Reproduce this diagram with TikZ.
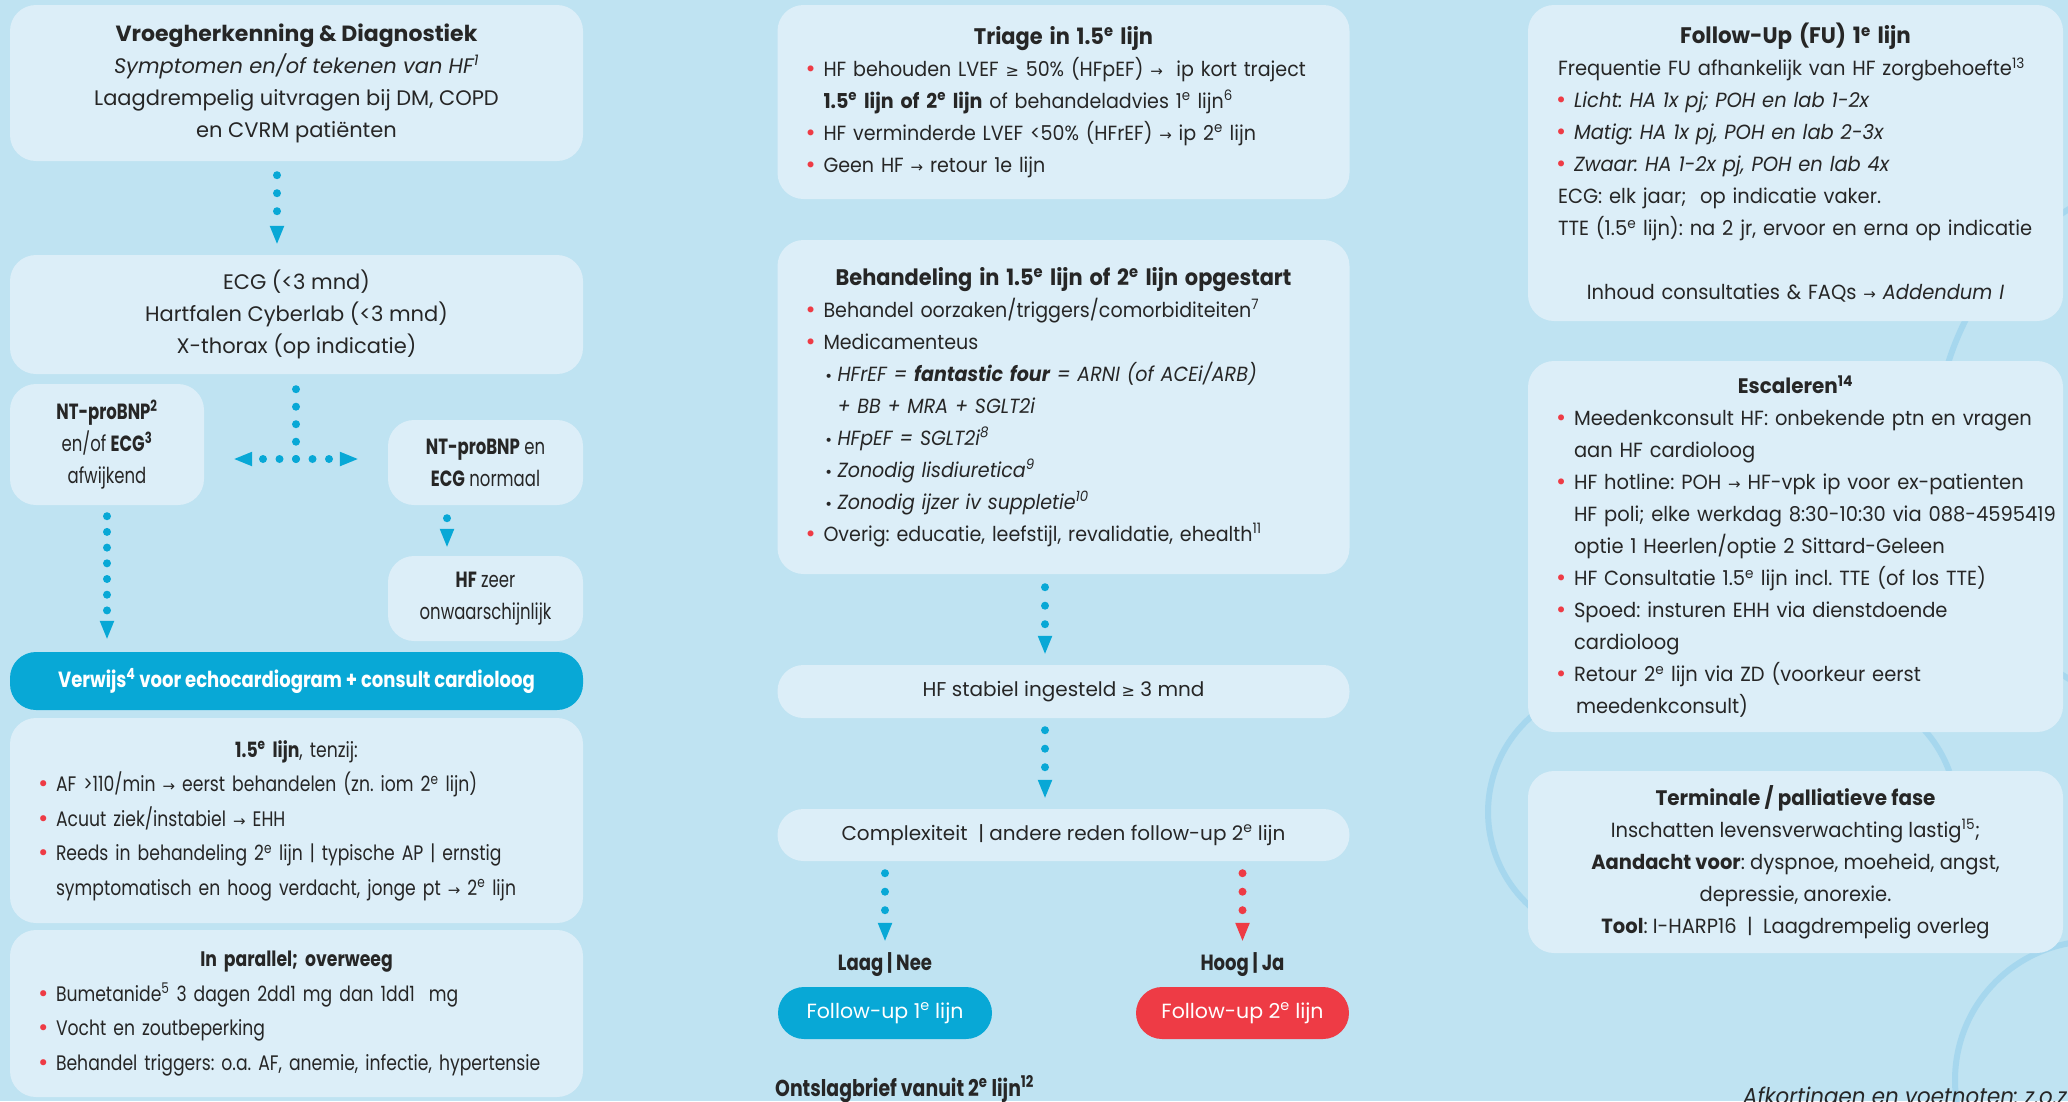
\documentclass[tikz,border=0pt]{standalone}
\usepackage{fontspec}
\setmainfont{Poppins}
\newfontfamily\symfont{DejaVu Sans}
\newfontfamily\smallcond[FakeStretch=0.75]{Poppins}
\newfontfamily\leftcond[FakeStretch=0.82]{Poppins}
\newfontfamily\midfont[FakeStretch=0.93]{Poppins}
\newfontfamily\rightfont[FakeStretch=0.95]{Poppins}
\usetikzlibrary{arrows.meta,calc}
\frenchspacing

\definecolor{hfbg}{HTML}{BFE3F2}
\definecolor{hfbox}{HTML}{DCEEF8}
\definecolor{hfcyan}{HTML}{08A8D6}
\definecolor{hfred}{HTML}{EE3B45}
\definecolor{hftext}{HTML}{262626}
\definecolor{hfring}{HTML}{A6D7EE}

\newcommand{\titlefont}{\fontsize{22.5}{32}\selectfont\bfseries}
\newcommand{\pijl}{{\symfont\fontsize{15}{32}\selectfont →}}
\newcommand{\gte}{{\symfont\fontsize{16}{32}\selectfont ≥}}
\newcommand{\bul}[1]{\mbox{\makebox[19pt][l]{\symfont\textcolor{hfred}{•}}#1}}
\newcommand{\sbul}[1]{\mbox{\hspace*{20pt}\makebox[13pt][l]{\symfont\fontsize{14}{32}\selectfont •}#1}}
\newcommand{\ind}[1]{\mbox{\hspace*{19pt}#1}}
\newcommand{\regel}[1]{\mbox{\hspace*{3pt}#1}}
\newcommand{\ste}{\textsuperscript{e}}

\begin{document}
\begin{tikzpicture}[x=1pt, y=-1pt,
    box/.style={fill=hfbox, rounded corners=26pt, text=hftext, inner sep=0pt,
        font=\fontsize{21}{32}\selectfont},
    cyanbox/.style={box, fill=hfcyan, text=white},
    redbox/.style={box, fill=hfred, text=white},
    flow/.style={draw=hfcyan, line width=8pt, line cap=round, dash pattern=on 0pt off #1,
        -{Triangle[width=13pt, length=19pt]}},
    flow/.default=18pt,
    redflow/.style={flow=#1, draw=hfred},
    redflow/.default=18pt,
    ring/.style={draw=hfring, line width=6pt},
    tag/.style={text=hftext, inner sep=0pt, font=\leftcond\fontsize{22}{26}\selectfont\bfseries}]

    \useasboundingbox (0,0) rectangle (2068,1101);
    \fill[hfbg] (0,0) rectangle (2068,1101);

    % Background rings
    \draw[ring] (1533.4,714.7) arc[start angle=130, end angle=230, radius=127pt];
    \draw[ring] (1893.5,705) arc[start angle=60, end angle=20, radius=127pt];
    \draw[ring] (2210,444) circle (274pt);
    \draw[ring] (2094,1080) circle (139pt);

    % Left column
    \node[box, minimum width=573pt, minimum height=156pt, align=center] (vroeg) at (296.5,83)
        {{\fontsize{22}{32}\selectfont\bfseries Vroegherkenning \& Diagnostiek}\\
         \textit{Symptomen en/of tekenen van HF\textsuperscript{1}}\\
         Laagdrempelig uitvragen bij DM, COPD\\
         en CVRM patiënten};
    \node[box, minimum width=573pt, minimum height=119pt, align=center] (ecg) at (296.5,314.5)
        {ECG (<3 mnd)\\ Hartfalen Cyberlab (<3 mnd)\\ X-thorax (op indicatie)};
    \node[box, minimum width=194pt, minimum height=121pt, align=center,
        font=\smallcond\fontsize{22}{32}\selectfont] (afwijkend) at (107,444.5)
        {\textbf{NT-proBNP\textsuperscript{2}}\\ en/of \textbf{ECG\textsuperscript{3}}\\ afwijkend};
    \node[box, minimum width=195pt, minimum height=85pt, align=center,
        font=\smallcond\fontsize{22}{32}\selectfont] (normaal) at (485.5,462.5)
        {\textbf{NT-proBNP} en\\ \textbf{ECG} normaal};
    \node[box, minimum width=195pt, minimum height=85pt, align=center,
        font=\smallcond\fontsize{22}{32}\selectfont] (onwaar) at (485.5,598.5)
        {\textbf{HF} zeer\\ onwaarschijnlijk};
    \node[cyanbox, minimum width=573pt, minimum height=58pt,
        font=\leftcond\fontsize{22}{32}\selectfont] (verwijs) at (296.5,681)
        {\textbf{Verwijs\textsuperscript{4} voor echocardiogram + consult cardioloog}};
    \node[box, minimum width=573pt, minimum height=205pt, text width=519pt, align=left,
        font=\leftcond\fontsize{21}{34.5}\selectfont] (tenzij) at (296.5,820.5)
        {\centerline{\textbf{1.5\ste{} lijn}, tenzij:}\\
         \bul{AF >110/min \pijl{} eerst behandelen (zn. iom 2\ste{} lijn)}\\
         \bul{Acuut ziek/instabiel \pijl{} EHH}\\
         \bul{Reeds in behandeling 2\ste{} lijn | typische AP | ernstig}\\
         \ind{symptomatisch en hoog verdacht, jonge pt \pijl{} 2\ste{} lijn}};
    \node[box, minimum width=573pt, minimum height=167pt, text width=519pt, align=left,
        font=\leftcond\fontsize{21}{34.5}\selectfont] (parallel) at (296.5,1013.5)
        {\centerline{\textbf{In parallel; overweeg}}\\
         \bul{Bumetanide\textsuperscript{5} 3 dagen 2dd1 mg dan 1dd1\ \ mg}\\
         \bul{Vocht en zoutbeperking}\\
         \bul{Behandel triggers: o.a. AF, anemie, infectie, hypertensie}};

    % Middle column
    \node[box, minimum width=572pt, minimum height=194pt, text width=518pt, align=left,
        font=\midfont\fontsize{20.5}{32}\selectfont] (triage) at (1063.5,102)
        {\centerline{\titlefont Triage in 1.5\ste{} lijn}\\
         \bul{HF behouden LVEF \gte{} 50\% (HFpEF) \pijl{}\ \ ip kort traject}\\
         \ind{\textbf{1.5\ste{} lijn of 2\ste{} lijn} of behandeladvies 1\ste{} lijn\textsuperscript{6}}\\
         \bul{HF verminderde LVEF <50\% (HFrEF) \pijl{} ip 2\ste{} lijn}\\
         \bul{Geen HF \pijl{} retour 1e lijn}};
    \node[box, minimum width=572pt, minimum height=334pt, text width=518pt, align=left,
        font=\midfont\fontsize{20.5}{32}\selectfont] (behandeling) at (1063.5,407)
        {\centerline{\titlefont Behandeling in 1.5\ste{} lijn of 2\ste{} lijn opgestart}\\
         \bul{Behandel oorzaken/triggers/comorbiditeiten\textsuperscript{7}}\\
         \bul{Medicamenteus}\\
         \sbul{\textit{HFrEF = \textbf{fantastic four} = ARNI (of ACEi/ARB)}}\\
         \mbox{\hspace*{33pt}\textit{+ BB + MRA + SGLT2i}}\\
         \sbul{\textit{HFpEF = SGLT2i\textsuperscript{8}}}\\
         \sbul{\textit{Zonodig lisdiuretica\textsuperscript{9}}}\\
         \sbul{\textit{Zonodig ijzer iv suppletie\textsuperscript{10}}}\\
         \bul{Overig: educatie, leefstijl, revalidatie, ehealth\textsuperscript{11}}};
    \node[box, minimum width=572pt, minimum height=53pt, font=\fontsize{20}{32}\selectfont] (stabiel) at (1063.5,691.5)
        {HF stabiel ingesteld \gte{} 3 mnd};
    \node[box, minimum width=572pt, minimum height=52pt, font=\fontsize{20}{32}\selectfont] (complex) at (1063.5,835)
        {Complexiteit\ \ | andere reden follow-up 2\ste{} lijn};
    \node[tag] (laag) at (885,965) {Laag | Nee};
    \node[tag] (hoog) at (1242.5,965) {Hoog | Ja};
    \node[cyanbox, minimum width=214pt, minimum height=52pt, font=\fontsize{20.5}{32}\selectfont] (fu1) at (885,1013)
        {Follow-up 1\ste{} lijn};
    \node[redbox, minimum width=213pt, minimum height=52pt, font=\fontsize{20.5}{32}\selectfont] (fu2) at (1242.5,1013)
        {Follow-up 2\ste{} lijn};
    \node[tag, anchor=west, font=\leftcond\fontsize{23}{26}\selectfont\bfseries] (ontslag) at (775,1089)
        {Ontslagbrief vanuit 2\ste{} lijn\textsuperscript{12}};

    % Right column
    \node[box, minimum width=535pt, minimum height=316pt, text width=481pt, align=left,
        font=\rightfont\fontsize{20.5}{32}\selectfont] (followup) at (1795.5,163)
        {\centerline{\titlefont Follow-Up (FU) 1\ste{} lijn}\\
         \regel{Frequentie FU afhankelijk van HF zorgbehoefte\textsuperscript{13}}\\
         \bul{\textit{Licht: HA 1x pj; POH en lab 1-2x}}\\
         \bul{\textit{Matig: HA 1x pj, POH en lab 2-3x}}\\
         \bul{\textit{Zwaar: HA 1-2x pj, POH en lab 4x}}\\
         \regel{ECG: elk jaar;\ \ op indicatie vaker.}\\
         \regel{TTE (1.5\ste{} lijn): na 2 jr, ervoor en erna op indicatie}\\
         \mbox{}\\
         \centerline{Inhoud consultaties \& FAQs \pijl{} \textit{Addendum I}}};
    \node[box, minimum width=535pt, minimum height=371pt, text width=481pt, align=left,
        font=\rightfont\fontsize{20.5}{32}\selectfont] (escaleren) at (1795.5,546.5)
        {\centerline{\fontsize{21}{32}\selectfont\bfseries Escaleren\textsuperscript{14}}\\
         \bul{Meedenkconsult HF: onbekende ptn en vragen}\\
         \ind{aan HF cardioloog}\\
         \bul{HF hotline: POH \pijl{} HF-vpk ip voor ex-patienten}\\
         \ind{HF poli; elke werkdag 8:30-10:30 via 088-4595419}\\
         \ind{optie 1 Heerlen/optie 2 Sittard-Geleen}\\
         \bul{HF Consultatie 1.5\ste{} lijn incl. TTE (of los TTE)}\\
         \bul{Spoed: insturen EHH via dienstdoende}\\
         \ind{cardioloog}\\
         \bul{Retour 2\ste{} lijn via ZD (voorkeur eerst}\\
         \ind{\hspace*{2pt}meedenkconsult)}};
    \node[box, minimum width=535pt, minimum height=182pt, align=center,
        font=\rightfont\fontsize{20.5}{32}\selectfont] (terminaal) at (1795.5,862)
        {{\fontsize{21}{32}\selectfont\bfseries Terminale / palliatieve fase}\\
         Inschatten levensverwachting lastig\textsuperscript{15};\\
         \textbf{Aandacht voor}: dyspnoe, moeheid, angst,\\
         depressie, anorexie.\\
         \textbf{Tool}: I-HARP16\ \ |\ \ Laagdrempelig overleg};
    \node[anchor=base west, inner sep=0pt, text=hftext, font=\midfont\fontsize{23}{26}\selectfont\itshape] (afkort) at (1743,1104)
        {Afkortingen en voetnoten: z.o.z};

    % Connectors
    \coordinate (split) at (296,459);
    \coordinate (midx) at (1045,0);
    \draw[flow, shorten <=14pt, shorten >=10pt] ([xshift=-19.5pt]vroeg.south) -- ([xshift=-19.5pt]ecg.north);
    \draw[flow=17.5pt, -, shorten <=15pt] (ecg.south -| split) -- (split);
    \draw[flow=16.5pt, shorten >=29pt] (split) -- (split -| afwijkend.east);
    \draw[flow=16.5pt, shorten >=29pt] (split) -- (split -| normaal.west);
    \draw[flow=15.7pt, shorten <=11pt, shorten >=12pt] (afwijkend.south) -- (verwijs.north -| afwijkend.south);
    \draw[flow, shorten <=13pt, shorten >=8pt] ([xshift=-38.5pt]normaal.south) -- ([xshift=-38.5pt]onwaar.north);
    \draw[flow=18.5pt, shorten <=13pt, shorten >=10pt] (behandeling.south -| midx) -- (stabiel.north -| midx);
    \draw[flow=18.5pt, shorten <=12pt, shorten >=10pt] (stabiel.south -| midx) -- (complex.north -| midx);
    \draw[flow=18.5pt, shorten <=12pt, shorten >=11pt] (complex.south -| laag) -- (laag.north);
    \draw[redflow=18.5pt, shorten <=12pt, shorten >=11pt] (complex.south -| hoog) -- (hoog.north);
\end{tikzpicture}
\end{document}
